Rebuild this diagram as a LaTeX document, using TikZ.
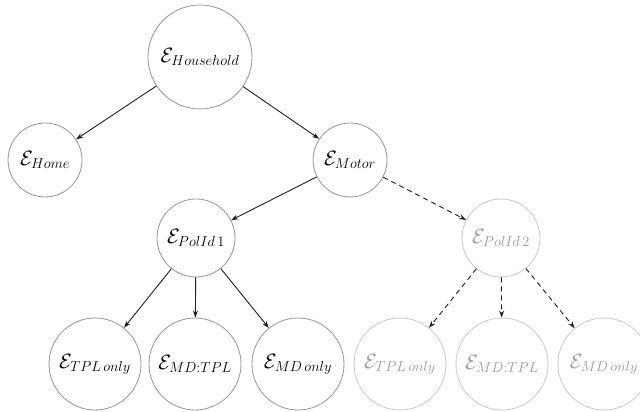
\documentclass[tikz,border=0pt]{standalone}
\usetikzlibrary{arrows.meta}
\definecolor{darkring}{HTML}{999999}
\definecolor{lightring}{HTML}{CACACA}
\definecolor{lighttext}{HTML}{9A9A9A}
\definecolor{edgecol}{HTML}{1E1E1E}
\begin{document}
\begin{tikzpicture}[x=1pt,y=1pt,
  ent/.style={circle, draw=darkring, line width=0.85pt, inner sep=0pt, font=\fontsize{19.5}{23}\selectfont},
  ghost/.style={ent, draw=lightring, text=lighttext},
  arr/.style={-{Stealth[length=7pt,width=5pt]}, draw=edgecol, line width=0.9pt},
  darr/.style={arr, dash pattern=on 5pt off 4pt}
]
\useasboundingbox (0,0) rectangle (640,412);
\node[ent, minimum size=104pt] (hh) at (200,355) {$\mathcal{E}_{Household}$};
\node[ent, minimum size=74pt] (home) at (45,252) {$\mathcal{E}_{Home}$};
\node[ent, minimum size=74pt] (motor) at (350,252) {$\mathcal{E}_{Motor}$};
\node[ent, minimum size=78pt] (p1) at (196,174) {$\mathcal{E}_{PolId\,1}$};
\node[ghost, minimum size=78pt] (p2) at (501,174) {$\mathcal{E}_{PolId\,2}$};
\node[ent, minimum size=92pt] (a1) at (95,48) {$\mathcal{E}_{TPL\,only}$};
\node[ent, minimum size=92pt] (b1) at (195,48) {$\mathcal{E}_{MD:TPL}$};
\node[ent, minimum size=92pt] (c1) at (298,48) {$\mathcal{E}_{MD\,only}$};
\node[ghost, minimum size=92pt] (a2) at (400,48) {$\mathcal{E}_{TPL\,only}$};
\node[ghost, minimum size=92pt] (b2) at (502,48) {$\mathcal{E}_{MD:TPL}$};
\node[ghost, minimum size=92pt] (c2) at (604,48) {$\mathcal{E}_{MD\,only}$};
\draw[arr] (hh) -- (home);
\draw[arr] (hh) -- (motor);
\draw[arr] (motor) -- (p1);
\draw[darr] (motor) -- (p2);
\draw[arr] (p1) -- (a1);
\draw[arr] (p1) -- (b1);
\draw[arr] (p1) -- (c1);
\draw[darr] (p2) -- (a2);
\draw[darr] (p2) -- (b2);
\draw[darr] (p2) -- (c2);
\end{tikzpicture}
\end{document}
